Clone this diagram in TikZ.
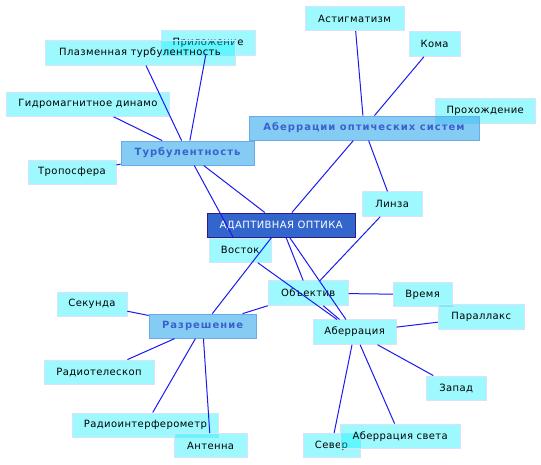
\documentclass[tikz,border=0pt]{standalone}
\usepackage{fontspec}
\setmainfont{DejaVu Sans}
\newfontfamily\leaffont[LetterSpace=4]{DejaVu Sans}
\newfontfamily\rootfont[LetterSpace=4]{DejaVu Sans}
\newfontfamily\catfont[LetterSpace=10]{DejaVu Sans Bold}
\usepackage{tikz}
\usetikzlibrary{positioning}
\definecolor{mroot}{HTML}{3366CC}
\definecolor{mrootline}{HTML}{2A1A8A}
\definecolor{mcat}{HTML}{33AAEE}
\definecolor{mcatline}{HTML}{70A8EC}
\definecolor{mcattext}{HTML}{3A60CC}
\definecolor{mleaf}{HTML}{00F0FF}
\definecolor{mleafline}{HTML}{D8E2F8}
\definecolor{medge}{HTML}{1A1AF0}
\tikzset{
  rootbox/.style={draw=mrootline, fill=mroot, line width=0.9pt,
                  minimum height=0.85cm, inner sep=0,
                  font=\rootfont\fontsize{10}{12}\selectfont, text=white},
  catbox/.style={draw=mcatline, fill=mcat, fill opacity=0.6, text opacity=1,
                 minimum height=0.85cm, inner sep=0, line width=0.8pt,
                 font=\catfont\fontsize{10}{12}\selectfont, text=mcattext},
  leafbox/.style={draw=mleafline, fill=mleaf, fill opacity=0.38, text opacity=1,
                  minimum height=0.86cm, inner sep=0, line width=0.8pt,
                  font=\leaffont\fontsize{10}{12}\selectfont, text=black},
  mlink/.style={medge, line width=1pt},
}

\begin{document}
\begin{tikzpicture}[x=1cm, y=1cm]

  \useasboundingbox (0,0) rectangle (19.01,16.31);

  \node[leafbox, minimum width=3.30cm] (prilozh) at (7.31,14.81) {Приложение};
  \node[leafbox, minimum width=6.68cm] (plazma) at (4.92,14.45) {Плазменная турбулентность};
  \node[leafbox, minimum width=5.76cm] (gidro) at (3.09,12.65) {Гидромагнитное динамо};
  \node[leafbox, minimum width=3.09cm] (tropo) at (2.53,10.26) {Тропосфера};
  \node[leafbox, minimum width=3.48cm] (astigm) at (12.46,15.66) {Астигматизм};
  \node[leafbox, minimum width=1.79cm] (koma) at (15.27,14.76) {Кома};
  \node[leafbox, minimum width=3.51cm] (prohozh) at (17.05,12.42) {Прохождение};
  \node[leafbox, minimum width=2.11cm] (linza) at (13.78,9.14) {Линза};
  \node[leafbox, minimum width=2.18cm] (vostok) at (8.44,7.52) {Восток};
  \node[leafbox, minimum width=2.81cm] (obiekt) at (10.83,6.01) {Объектив};
  \node[leafbox, minimum width=2.07cm] (vremya) at (14.85,5.96) {Время};
  \node[leafbox, minimum width=3.02cm] (parallax) at (16.91,5.17) {Параллакс};
  \node[leafbox, minimum width=2.92cm] (aberr) at (12.46,4.64) {Аберрация};
  \node[leafbox, minimum width=2.11cm] (zapad) at (16.03,2.67) {Запад};
  \node[leafbox, minimum width=2.00cm] (sever) at (11.65,0.65) {Север};
  \node[leafbox, minimum width=4.22cm] (abersvet) at (14.06,0.98) {Аберрация света};
  \node[leafbox, minimum width=2.46cm] (sekunda) at (3.23,5.62) {Секунда};
  \node[leafbox, minimum width=3.87cm] (radtel) at (3.48,3.23) {Радиотелескоп};
  \node[leafbox, minimum width=5.10cm] (radint) at (5.11,1.37) {Радиоинтерферометр};
  \node[leafbox, minimum width=2.57cm] (antenna) at (7.40,0.65) {Антенна};

  \node[catbox, minimum width=4.67cm] (turb) at (6.59,10.93) {Турбулентность};
  \node[catbox, minimum width=8.08cm] (aberrsys) at (12.79,11.81) {Аберрации оптических систем};
  \node[catbox, minimum width=3.76cm] (razresh) at (7.12,4.85) {Разрешение};

  \node[rootbox, minimum width=5.20cm] (root) at (9.88,8.40) {АДАПТИВНАЯ ОПТИКА};

  \draw[mlink] (turb) -- (plazma);
  \draw[mlink] (turb) -- (prilozh);
  \draw[mlink] (turb) -- (gidro);
  \draw[mlink] (turb) -- (tropo);
  \draw[mlink] (turb) -- (vostok);
  \draw[mlink] (turb) -- (root);

  \draw[mlink] (aberrsys) -- (astigm);
  \draw[mlink] (aberrsys) -- (koma);
  \draw[mlink] (aberrsys) -- (root);
  \draw[mlink] (aberrsys) -- (linza);

  \draw[mlink] (linza) -- (obiekt);
  \draw[mlink] (root) -- (obiekt);
  \draw[mlink] (root) -- (aberr);
  \draw[mlink] (vostok) -- (aberr);
  \draw[mlink] (obiekt) -- (aberr);
  \draw[mlink] (obiekt) -- (vremya);

  \draw[mlink] (razresh) -- (root);
  \draw[mlink] (razresh) -- (obiekt);
  \draw[mlink] (razresh) -- (sekunda);
  \draw[mlink] (razresh) -- (radtel);
  \draw[mlink] (razresh) -- (radint);
  \draw[mlink] (razresh) -- (antenna);

  \draw[mlink] (aberr) -- (parallax);
  \draw[mlink] (aberr) -- (zapad);
  \draw[mlink] (aberr) -- (abersvet);
  \draw[mlink] (aberr) -- (sever);

\end{tikzpicture}
\end{document}
